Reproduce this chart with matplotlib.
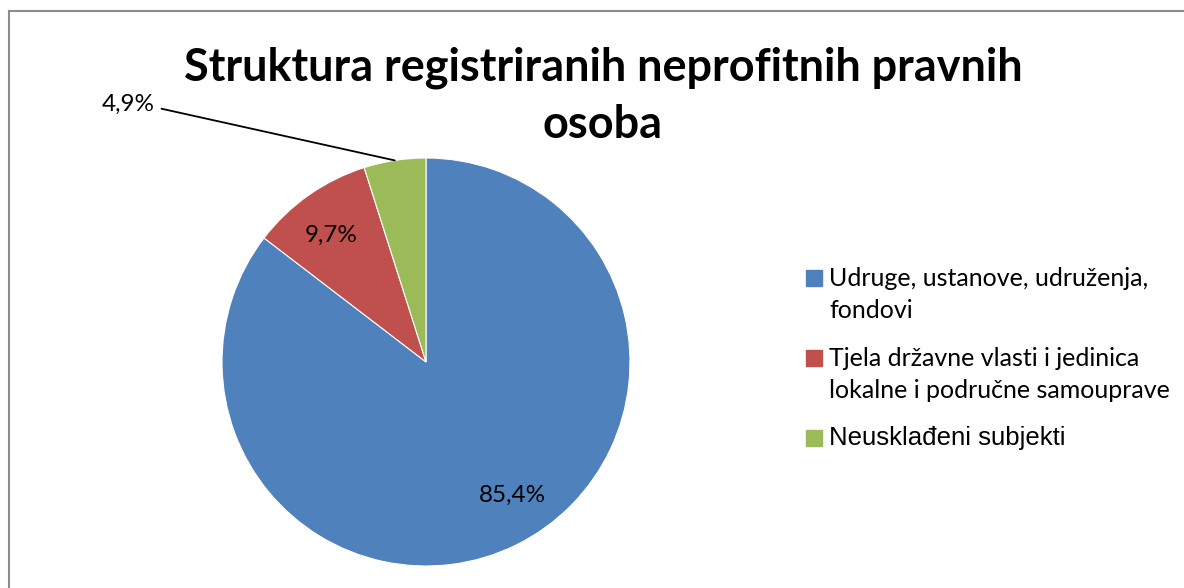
import numpy as np
import matplotlib
matplotlib.use("Agg")
import matplotlib.pyplot as plt
from matplotlib.patches import Rectangle
from matplotlib.lines import Line2D

W, H = 1184, 588

# data
categories = ["Udruge, ustanove, udruženja,\nfondovi",
              "Tjela državne vlasti i jedinica\nlokalne i područne samouprave",
              "Neusklađeni subjekti"]
shares = [85.4, 9.7, 4.9]
pct_labels = ["85,4%", "9,7%", "4,9%"]
colors = ["#4F81BD", "#C0504D", "#9BBB59"]
legend_fonts = ["Lato", "Lato", "Liberation Sans"]
legend_sizes = [18, 18, 18.5]
title = "Struktura registriranih neprofitnih pravnih\nosoba"


def fx(px):
    return px / W


def fy(py):
    return 1 - py / H


fig = plt.figure(figsize=(W / 100, H / 100), dpi=100)

# grey chart frame (top and left edges visible)
fig.add_artist(Line2D([fx(9), fx(9)], [fy(11), 0], transform=fig.transFigure,
                      color="#8c8c8c", lw=1.5))
fig.add_artist(Line2D([fx(9), 1], [fy(11), fy(11)], transform=fig.transFigure,
                      color="#8c8c8c", lw=1.5))

# pie: center (426, 362) px, radius 204 px
cx, cy, r = 426, 362, 204
ax = fig.add_axes([fx(cx - r), fy(cy + r), 2 * r / W, 2 * r / H])
wedges, _ = ax.pie(shares, colors=colors, startangle=90, counterclock=False,
                   wedgeprops=dict(edgecolor="white", linewidth=0.8))
ax.set_xlim(-1, 1)
ax.set_ylim(-1, 1)
ax.set_aspect("equal")
ax.axis("off")

# inside labels
nudge = [7, 2]
for w, lab, dn in zip(wedges[:2], pct_labels[:2], nudge):
    ang = np.deg2rad((w.theta1 + w.theta2) / 2 + dn)
    ax.text(0.77 * np.cos(ang), 0.78 * np.sin(ang), lab, ha="center", va="center",
            fontsize=17.5, family="Lato", color="black")

# outside label with leader line for the small slice
g = wedges[2]
ang = np.deg2rad((g.theta1 + g.theta2) / 2)
ax.annotate(pct_labels[2], xy=(np.cos(ang), np.sin(ang)), xytext=(-1.33, 1.265),
            ha="right", va="center", fontsize=17.5, family="Lato",
            arrowprops=dict(arrowstyle="-", color="black", lw=1.3, relpos=(1, 0.5),
                            shrinkA=3, shrinkB=0,
                            connectionstyle="angle,angleA=0,angleB=-12.5,rad=0"))

# title
fig.text(fx(603), fy(96), title, ha="center", va="center", fontsize=32.4,
         fontweight="bold", family="Lato", linespacing=1.45)

# legend
y0 = [278, 358, 438]
for lab, c, fam, fs, yy in zip(categories, colors, legend_fonts, legend_sizes, y0):
    fig.add_artist(Rectangle((fx(806), fy(yy + 8)), 16 / W, 16 / H,
                             transform=fig.transFigure, color=c))
    for i, line in enumerate(lab.split("\n")):
        fig.text(fx(829), fy(yy + i * 33), line, ha="left", va="center",
                 fontsize=fs, family=fam)

fig.savefig("out.png", dpi=100)
